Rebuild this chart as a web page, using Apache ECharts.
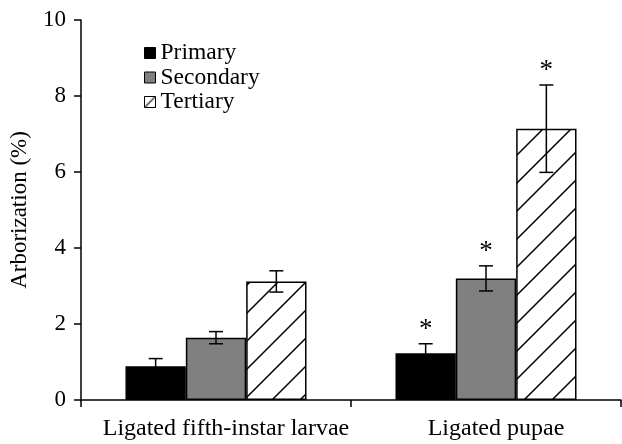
<!DOCTYPE html>
<html>
<head>
<meta charset="utf-8">
<script src="https://cdn.jsdelivr.net/npm/echarts@6/dist/echarts.min.js"></script>
<style>
html,body{margin:0;padding:0;background:#fff;}
#chart{width:622px;height:444px;}
</style>
</head>
<body>
<div id="chart"></div>
<script>
var categories = ['Ligated fifth-instar larvae', 'Ligated pupae'];
var seriesNames = ['Primary', 'Secondary', 'Tertiary'];
var primary = [0.89, 1.23];
var primaryErr = [0.20, 0.25];
var secondary = [1.64, 3.20];
var secondaryErr = [0.16, 0.33];
var tertiary = [3.12, 7.14];
var tertiaryErr = [0.28, 1.15];
var primarySig = [false, true];
var secondarySig = [false, true];
var tertiarySig = [false, true];
var yTicks = [0, 2, 4, 6, 8, 10];

var FONT = '"Liberation Serif", "DejaVu Serif", serif';

function hatch(size, lw) {
  var c = document.createElement('canvas');
  c.width = size; c.height = size;
  var g = c.getContext('2d');
  g.fillStyle = '#fff';
  g.fillRect(0, 0, size, size);
  g.strokeStyle = '#000';
  g.lineWidth = lw;
  g.beginPath();
  g.moveTo(-2, size + 2); g.lineTo(size + 2, -2);
  g.moveTo(-2, 2); g.lineTo(2, -2);
  g.moveTo(size - 2, size + 2); g.lineTo(size + 2, size - 2);
  g.stroke();
  return c;
}
var hatchFill = { image: hatch(28, 1.5), repeat: 'repeat' };
var hatchIcon = { image: hatch(11, 1.2), repeat: 'repeat' };

var values = [primary, secondary, tertiary];
var errs = [primaryErr, secondaryErr, tertiaryErr];
var sigs = [primarySig, secondarySig, tertiarySig];
var fills = ['#000000', '#808080', hatchFill];
var iconFills = ['#000000', '#808080', hatchIcon];

var BAR_FRAC = 0.2235;

var series = [];
seriesNames.forEach(function (name, si) {
  series.push({
    name: name,
    type: 'bar',
    data: values[si],
    barWidth: (BAR_FRAC * 100) + '%',
    barGap: '0%',
    itemStyle: { color: fills[si], borderColor: '#000', borderWidth: 1.5 },
    emphasis: { disabled: true },
    z: 2
  });
});

var errData = [];
seriesNames.forEach(function (name, si) {
  categories.forEach(function (c, ci) {
    errData.push([ci, values[si][ci], errs[si][ci], si, sigs[si][ci] ? 1 : 0]);
  });
});

series.push({
  type: 'custom',
  name: 'err',
  data: errData,
  encode: { x: 0, y: 1 },
  z: 5,
  renderItem: function (params, api) {
    var ci = api.value(0), v = api.value(1), e = api.value(2), si = api.value(3), sig = api.value(4);
    var catW = api.size([1, 0])[0];
    var bw = catW * BAR_FRAC;
    var center = api.coord([ci, v]);
    var x = center[0] + (si - 1) * bw;
    var top = api.coord([ci, v + e])[1];
    var bot = api.coord([ci, v - e])[1];
    var cap = 7;
    var st = { stroke: '#000', lineWidth: 1.5 };
    var children = [
      { type: 'line', shape: { x1: x, y1: top, x2: x, y2: bot }, style: st },
      { type: 'line', shape: { x1: x - cap, y1: top, x2: x + cap, y2: top }, style: st },
      { type: 'line', shape: { x1: x - cap, y1: bot, x2: x + cap, y2: bot }, style: st }
    ];
    if (sig) {
      children.push({
        type: 'text',
        style: { text: '*', x: x, y: top - 14, align: 'center', verticalAlign: 'middle',
          font: '27px ' + FONT, fill: '#000' }
      });
    }
    return { type: 'group', children: children };
  }
});

var legendData = seriesNames.map(function (n, i) {
  return { name: n, itemStyle: { color: iconFills[i], borderColor: '#000', borderWidth: 1 } };
});

var chart = echarts.init(document.getElementById('chart'), null, { renderer: 'canvas' });
chart.setOption({
  animation: false,
  backgroundColor: '#fff',
  textStyle: { fontFamily: FONT },
  grid: { left: 80, right: 1, top: 20, bottom: 44, containLabel: false },
  legend: {
    data: legendData,
    orient: 'vertical',
    left: 144,
    top: 41,
    padding: 0,
    itemWidth: 11,
    itemHeight: 11,
    itemGap: 0.5,
    icon: 'rect',
    textStyle: { fontFamily: FONT, fontSize: 23.5, color: '#000', lineHeight: 24 },
    selectedMode: false
  },
  xAxis: {
    type: 'category',
    data: categories,
    axisLine: { lineStyle: { color: '#000', width: 1.5 } },
    axisTick: { show: true, length: 7, lineStyle: { color: '#000', width: 1.5 } },
    axisLabel: { color: '#000', fontFamily: FONT, fontSize: 24, margin: 17, interval: 0,
      padding: [0, 0, 0, 20] }
  },
  yAxis: {
    type: 'value',
    min: yTicks[0],
    max: yTicks[yTicks.length - 1],
    interval: yTicks[1] - yTicks[0],
    name: 'Arborization (%)',
    nameLocation: 'middle',
    nameGap: 50,
    nameTextStyle: { color: '#000', fontFamily: FONT, fontSize: 23 },
    axisLine: { show: true, lineStyle: { color: '#000', width: 1.5 } },
    axisTick: { show: true, length: 7, lineStyle: { color: '#000', width: 1.5 } },
    axisLabel: { color: '#000', fontFamily: FONT, fontSize: 23, margin: 15 },
    splitLine: { show: false }
  },
  series: series
});
</script>
</body>
</html>
